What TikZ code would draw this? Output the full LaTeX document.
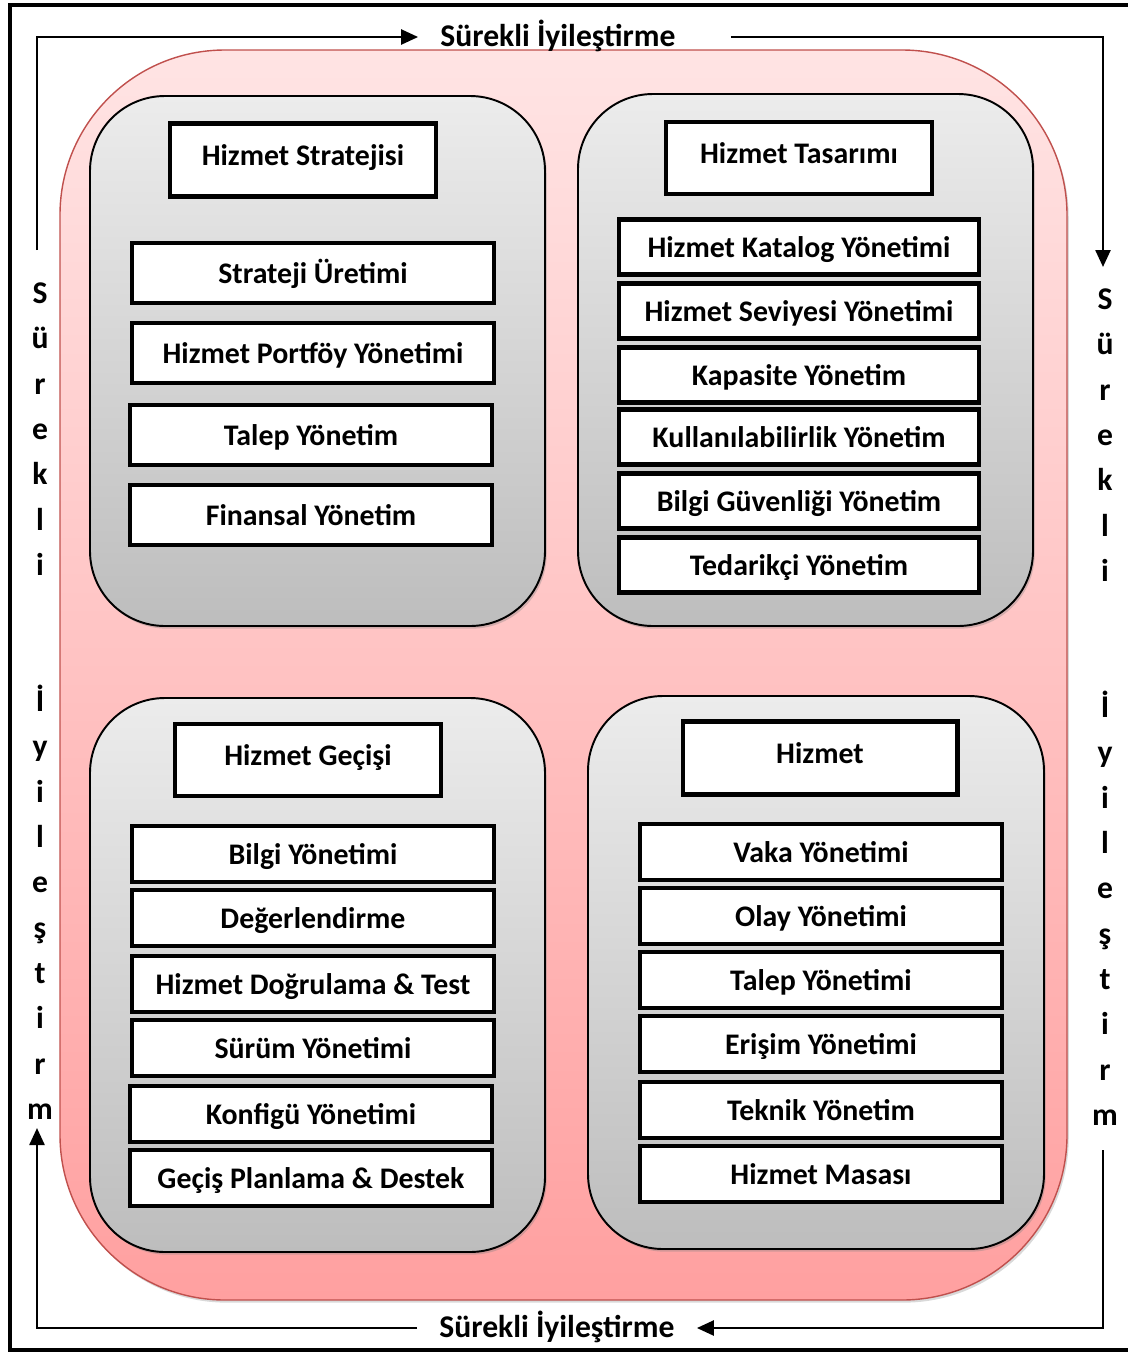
\documentclass[tikz,border=0pt]{standalone}
\usepackage{fontspec}
\setmainfont{Carlito}
\usetikzlibrary{arrows.meta,shadows}

\definecolor{pinktop}{HTML}{FFE4E4}
\definecolor{pinkbot}{HTML}{FFA0A0}
\definecolor{pinkline}{HTML}{C0504D}
\definecolor{graytop}{HTML}{ECECEC}
\definecolor{graybot}{HTML}{BDBDBD}

\tikzset{
  bold/.style={font=\fontsize{17}{20}\selectfont\bfseries},
  panel/.style={draw=black, line width=1.1pt, top color=graytop, bottom color=graybot,
    rounded corners=1.5cm, drop shadow={shadow xshift=1pt, shadow yshift=-1.5pt, opacity=0.35}},
  itembox/.style={bold, draw=black, line width=2.3pt, fill=white, inner sep=0pt,
    minimum width=7.24cm, minimum height=1.12cm, text height=2.55ex, text depth=0ex},
  headbox/.style={itembox, minimum width=5.32cm, minimum height=1.44cm, text height=1.6ex, text depth=.3ex},
  looptext/.style={font=\fontsize{18}{21}\selectfont\bfseries, inner xsep=0.44cm, text height=2.2ex, text depth=0ex},
  vtext/.style={font=\fontsize{18}{25.8}\selectfont\bfseries, align=center, inner sep=0pt},
  loop/.style={line width=1.4pt, -{Triangle[length=0.34cm,width=0.3cm]}}
}

\begin{document}
\begin{tikzpicture}[x=0.02cm, y=-0.02cm]
  \useasboundingbox (0,0) rectangle (1128,1353);

  % outer frame (right side runs off the page)
  \draw[line width=2pt] (1128,5) -- (10,5) -- (10,1350) -- (1128,1350);

  % pink background
  \path[draw=pinkline, line width=0.8pt, top color=pinktop, bottom color=pinkbot,
    rounded corners=3.3cm, drop shadow={shadow xshift=1pt, shadow yshift=-1.5pt, opacity=0.3}]
    (60,50) rectangle (1067,1300);

  % the four gray panels
  \path[panel] (90,96) rectangle (545,626);
  \path[panel] (578,94) rectangle (1033,626);
  \path[panel] (90,698) rectangle (545,1252);
  \path[panel] (588,696) rectangle (1044,1249);

  % Hizmet Stratejisi
  \node[headbox, minimum width=5.34cm, minimum height=1.46cm] (strat) at (303,160) {Hizmet Stratejisi};
  \foreach \name/\txt/\x/\y in {st1/Strateji Üretimi/313/273, st2/Hizmet Portföy Yönetimi/313/353,
      st3/Talep Yönetim/311/435, st4/Finansal Yönetim/311/515}
    \node[itembox, minimum height=1.2cm] (\name) at (\x,\y) {\txt};

  % Hizmet Tasarimi
  \node[headbox] (tasar) at (799,158) {Hizmet Tasarımı};
  \foreach \name/\txt/\y in {ts1/Hizmet Katalog Yönetimi/247, ts2/Hizmet Seviyesi Yönetimi/311,
      ts3/Kapasite Yönetim/375, ts4/Kullanılabilirlik Yönetim/437,
      ts5/Bilgi Güvenliği Yönetim/501, ts6/Tedarikçi Yönetim/565}
    \node[itembox, minimum width=7.22cm, minimum height=1.1cm] (\name) at (799,\y) {\txt};

  % Hizmet Gecisi
  \node[headbox] (gecis) at (308,760) {Hizmet Geçişi};
  \foreach \name/\txt/\x/\y in {gc1/Bilgi Yönetimi/313/854, gc2/Değerlendirme/313/918,
      gc3/Hizmet Doğrulama \& Test/313/984, gc4/Sürüm Yönetimi/313/1048,
      gc5/Konfigü Yönetimi/311/1114, gc6/Geçiş Planlama \& Destek/311/1178}
    \node[itembox] (\name) at (\x,\y) {\txt};

  % Hizmet
  \node[headbox, minimum width=5.5cm, minimum height=1.46cm] (hizmet) at (820,758) {Hizmet};
  \foreach \name/\txt/\y in {hz1/Vaka Yönetimi/852, hz2/Olay Yönetimi/916, hz3/Talep Yönetimi/980,
      hz4/Erişim Yönetimi/1044, hz5/Teknik Yönetim/1110, hz6/Hizmet Masası/1174}
    \node[itembox] (\name) at (821,\y) {\txt};

  % continual improvement loop
  \node[looptext] (toplbl) at (558,37) {Sürekli İyileştirme};
  \node[looptext] (botlbl) at (557,1328) {Sürekli İyileştirme};
  \node[vtext] (leftlbl) at (40,701) {S\\ü\\r\\e\\k\\l\\i\\\mbox{}\\\mbox{}\\İ\\y\\i\\l\\e\\ş\\t\\i\\r\\m};
  \node[vtext] (rightlbl) at (1105,707) {S\\ü\\r\\e\\k\\l\\i\\\mbox{}\\\mbox{}\\İ\\y\\i\\l\\e\\ş\\t\\i\\r\\m};
  \coordinate (lt) at (37,250);
  \coordinate (lb) at (37,1128);
  \coordinate (rt) at (1103,267);
  \coordinate (rb) at (1103,1150);
  \draw[loop] (lt) |- (toplbl.west);
  \draw[loop] ([xshift=0.66cm]toplbl.east) -| (rt);
  \draw[loop] (rb) |- (botlbl.east);
  \draw[loop] (botlbl.west) -| (lb);
\end{tikzpicture}
\end{document}
